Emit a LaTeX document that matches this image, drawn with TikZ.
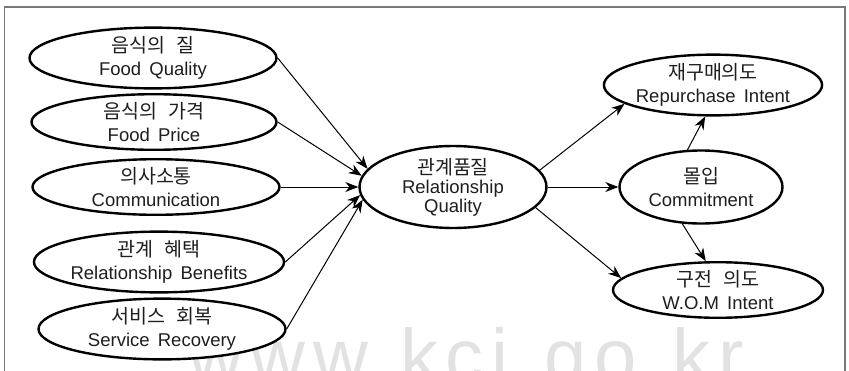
\documentclass[tikz,border=0pt]{standalone}
\usepackage{fontspec}
\setmainfont{Liberation Sans}[WordSpace=1.6]
\newfontfamily\kr{Noto Sans CJK KR}[WordSpace=2.4]
\newfontfamily\wmfont{Liberation Sans}[LetterSpace=10]
\newcommand\kor[1]{{\kr\fontsize{19.5}{23}\selectfont #1}}
\usetikzlibrary{shapes.geometric,arrows.meta}
\definecolor{framegray}{RGB}{120,120,120}
\definecolor{wmgray}{RGB}{226,226,226}
\definecolor{txt}{RGB}{30,30,30}
\begin{document}
\begin{tikzpicture}[x=1pt,y=-1pt,
  ell/.style={ellipse, draw, line width=2.4pt, fill=white, inner sep=0pt, align=center, text=txt, font=\fontsize{18.5}{23}\selectfont},
  arr/.style={-{Stealth[length=13pt,width=10pt]}, line width=1pt},
  frameline/.style={framegray, line width=1.5pt},
  wmark/.style={anchor=base west, text=wmgray, inner sep=0pt, font=\wmfont\fontsize{76}{76}\selectfont}
]
\useasboundingbox (0,0) rectangle (849,370);
\begin{scope}
\clip (0,0) rectangle (849,370);
\node[wmark] (wm) at (188,382) {www.kci.go.kr};
\draw[frameline] (4.5,375) -- (4.5,7) -- (845,7) -- (845,375);
\end{scope}

\node[ell, minimum width=247pt, minimum height=50pt] (fq) at (153,58) {\kor{음식의 질}\\Food Quality};
\node[ell, minimum width=245pt, minimum height=50pt] (fp) at (154,122) {\kor{음식의 가격}\\Food Price};
\node[ell, minimum width=247pt, minimum height=53pt] (cm) at (156,187) {\kor{의사소통}\\Communication};
\node[ell, minimum width=246pt, minimum height=55pt] (rb) at (159,262) {\kor{관계 혜택}\\Relationship Benefits};
\node[ell, minimum width=247pt, minimum height=48pt] (sr) at (162,329) {\kor{서비스 회복}\\Service Recovery};

\node[ell, minimum width=187pt, minimum height=73pt, font=\fontsize{18.5}{19}\selectfont] (rq) at (453,187) {{\kr\fontsize{19.5}{19}\selectfont 관계품질}\\Relationship\\Quality};

\node[ell, minimum width=210pt, minimum height=60pt] (rp) at (713,85) {\kor{재구매의도}\\Repurchase Intent};
\node[ell, minimum width=163pt, minimum height=73pt] (co) at (701,187) {\kor{몰입}\\Commitment};
\node[ell, minimum width=210pt, minimum height=55pt] (wom) at (718,290) {\kor{구전 의도}\\W.O.M Intent};

\draw[arr] (fq.east) -- (rq.168);
\draw[arr] (fp.east) -- (rq.173);
\draw[arr] (cm.east) -- (rq.west);
\draw[arr] (rb.east) -- (rq.185);
\draw[arr] (sr.east) -- (rq.188);

\draw[arr] (rq.11) -- (rp.192);
\draw[arr] (rq.east) -- (co.west);
\draw[arr] (rq.-14) -- (wom.173);
\draw[arr] (co.110) -- (rp.256);
\draw[arr] (co.243) -- (wom.113);
\end{tikzpicture}
\end{document}
